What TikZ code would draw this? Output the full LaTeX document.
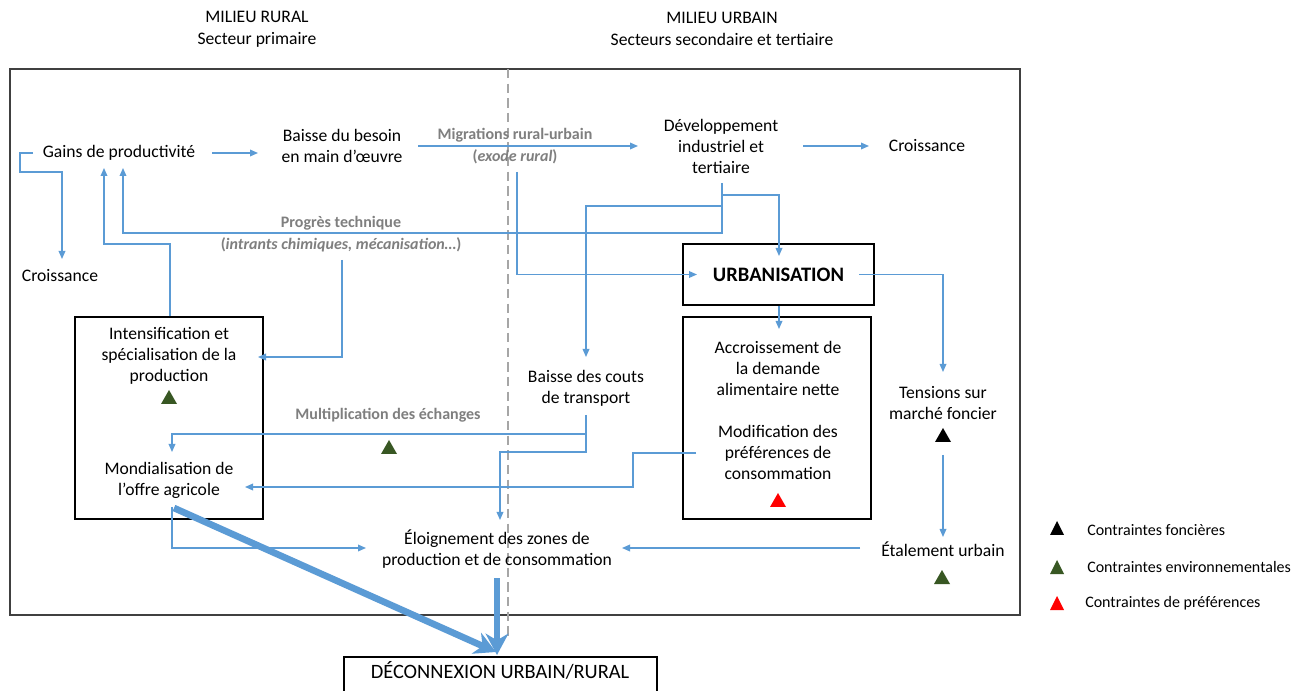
\documentclass[tikz,border=0pt]{standalone}
\usepackage{fontspec}
\setmainfont{Carlito}
\usetikzlibrary{arrows.meta}
\definecolor{lblue}{RGB}{91,155,213}
\definecolor{labgray}{RGB}{127,127,127}
\definecolor{tgreen}{RGB}{56,87,35}
\definecolor{framec}{RGB}{64,64,64}
\begin{document}
\begin{tikzpicture}[x=0.75pt,y=-0.75pt,
 txt/.style={font=\fontsize{13.2}{15.75}\selectfont, align=center, inner sep=0pt},
 hdr/.style={font=\fontsize{13.2}{16.5}\selectfont, align=center, inner sep=0pt},
 lab/.style={font=\fontsize{12}{16.5}\selectfont\bfseries, text=labgray, align=center, inner sep=0pt},
 leg/.style={font=\fontsize{12}{14}\selectfont, anchor=west, inner sep=0pt},
 ln/.style={draw=lblue, line width=0.9pt},
 arr/.style={ln, -{Triangle[length=6pt,width=5pt]}},
 bigarr/.style={draw=lblue, line width=5pt, -{Stealth[length=16pt,width=17pt,inset=5pt]}},
 box/.style={draw=black, line width=0.8pt, inner sep=0pt},
 tri/.pic={\fill (-8,7) -- (8,7) -- (0,-7) -- cycle;},
 ltri/.pic={\fill (-7,7) -- (7,7) -- (0,-7) -- cycle;},
]
\useasboundingbox (0,0) rectangle (1311,691);
\fill[white] (0,0) rectangle (1311,691);

% frame and separator
\draw[framec, line width=1pt] (10,69) rectangle (1020,615);
\draw[gray!70, dash pattern=on 7pt off 4pt, line width=0.8pt] (508,69) -- (508,637);

% headers
\node[hdr] (hdrR) at (257,29) {MILIEU RURAL\\Secteur primaire};
\node[hdr] (hdrU) at (722,29) {MILIEU URBAIN\\Secteurs secondaire et tertiaire};

% nodes
\node[txt] (gains) at (119,153) {Gains de productivité};
\node[txt] (baisse) at (342,146) {Baisse du besoin\\en main d’œuvre};
\node[lab] (migr) at (515,146) {Migrations rural-urbain\\(\textit{exode rural})};
\node[txt] (dev) at (721,146) {Développement\\industriel et\\tertiaire};
\node[txt] (croissR) at (927,146) {Croissance};
\node[txt] (croissL) at (60,276) {Croissance};
\node[lab] (progres) at (341,234) {Progrès technique\\(\textit{intrants chimiques, mécanisation…})};
\node[box, minimum width=143.25pt, minimum height=45.75pt, font=\fontsize{15.4}{18}\selectfont\bfseries] (urb) at (778.5,274.5) {URBANISATION};
\node[box, minimum width=141pt, minimum height=151.5pt] (intbox) at (169,418) {};
\node[box, minimum width=141pt, minimum height=151.5pt] (rbox) at (777,418) {};
\node[txt] (intens) at (169,356) {Intensification et\\spécialisation de la\\production};
\node[txt] (mondial) at (169,480) {Mondialisation de\\l’offre agricole};
\node[txt] (baisseT) at (586,388) {Baisse des couts\\de transport};
\node[lab] (multi) at (388,415) {Multiplication des échanges};
\node[txt] (accr) at (778,368) {Accroissement de\\la demande\\alimentaire nette};
\node[txt] (modif) at (778,452) {Modification des\\préférences de\\consommation};
\node[txt] (tens) at (943,403) {Tensions sur\\marché foncier};
\node[txt] (etal) at (943,549) {Étalement urbain};
\node[txt] (eloign) at (497,549) {Éloignement des zones de\\production et de consommation};
\node[box, minimum width=234.75pt, minimum height=32.25pt] (decobox) at (500.5,678.5) {};
\node[font=\fontsize{15.3}{18}\selectfont, inner sep=0pt] (deco) at (500,670) {DÉCONNEXION URBAIN/RURAL};

% triangles
\pic[color=tgreen] at (169,397) {tri};
\pic[color=tgreen] at (389,447) {tri};
\pic[color=black] at (943,435) {tri};
\pic[color=red] at (778,500) {tri};
\pic[color=tgreen] at (942,577) {tri};

% legend
\pic[color=black] at (1057,528) {ltri};
\node[leg] (l1) at (1087,530) {Contraintes foncières};
\pic[color=tgreen] at (1057,567) {ltri};
\node[leg] (l2) at (1087,567) {Contraintes environnementales};
\pic[color=red] at (1057,603) {ltri};
\node[leg] (l3) at (1085,603) {Contraintes de préférences};

% connectors
\draw[arr] (212,0 |- gains) -- (258,0 |- gains);
\draw[arr] (33,0 |- gains) -| (20,172) -| (62,259);
\draw[arr] (418,0 |- baisse) -- (638,0 |- baisse);
\draw[arr] (803,0 |- croissR) -- (869,0 |- croissR);
\draw[arr] (170,0 |- intbox.north) |- (104,244) -- (104,168);
\draw[arr] (722,183) |- (123,233) -- (123,168);
\draw[arr] (722,195) -| (779,256);
\draw[arr] (722,206) -| (586,357);
\draw[arr] (517,172) |- (697,0 |- urb);
\draw[arr] (859,0 |- urb) -| (943,372);
\draw[arr] (342,260) |- (258,357);
\draw[arr] (586,415) |- (172,434) -- (172,452);
\draw[arr] (586,434) |- (500,452) -- (500,520);
\draw[arr] (696,453) -| (633,487) -- (245,487);
\draw[arr] (779,0 |- urb.south) -- (779,329);
\draw[arr] (943,455) -- (943,537);
\draw[arr] (860,548) -- (622,548);
\draw[arr] (172,507) |- (366,548);
\draw[bigarr] (497,578) -- (497,655);
\draw[bigarr] (174,508) -- (496,652);
\end{tikzpicture}
\end{document}
